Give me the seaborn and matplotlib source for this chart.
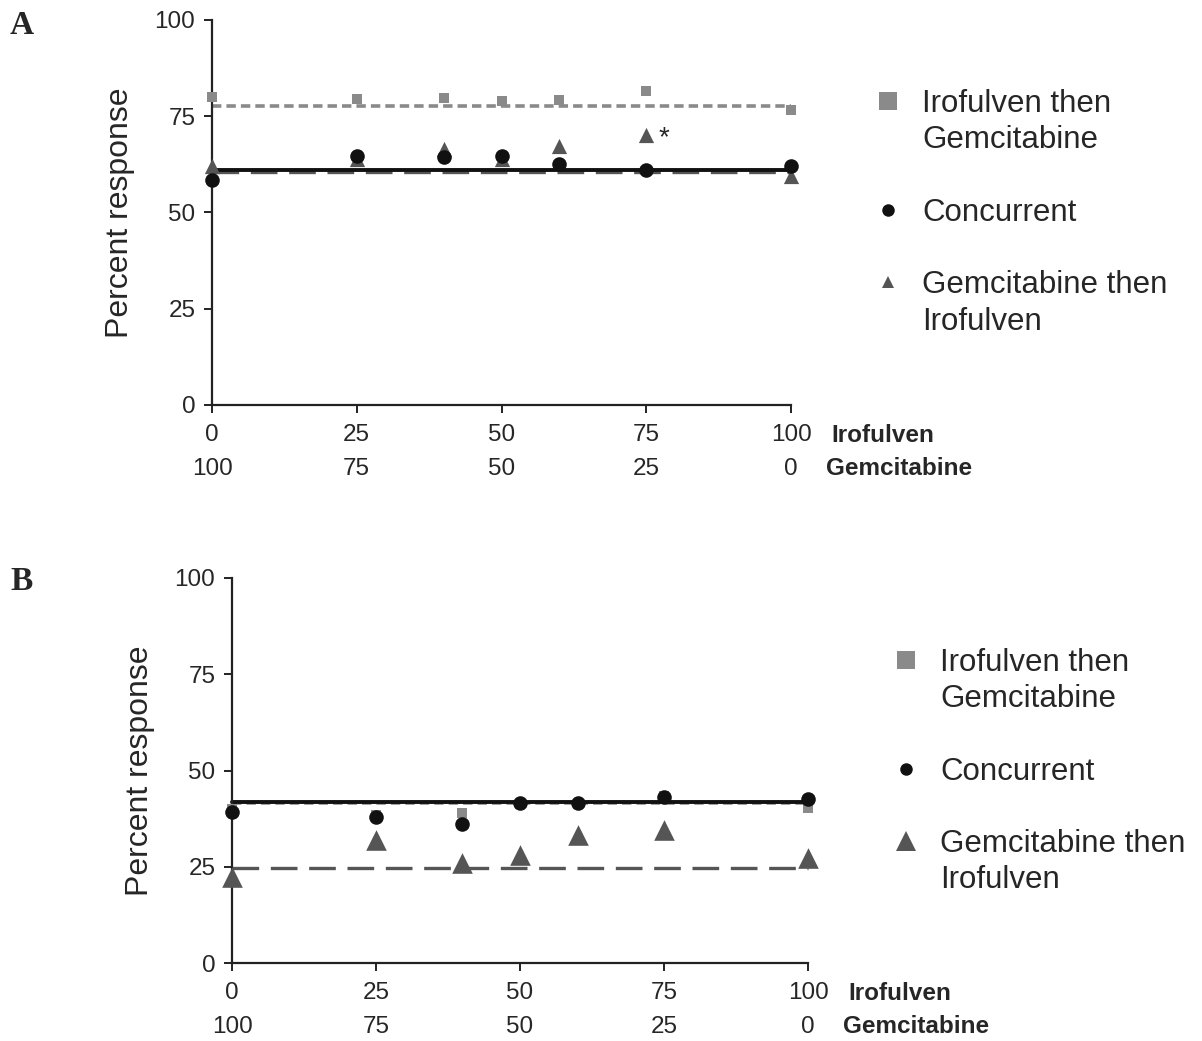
import matplotlib
matplotlib.use("Agg")
import matplotlib.pyplot as plt
from matplotlib.lines import Line2D
import seaborn as sns

sns.set_theme(style="ticks")
plt.rcParams['font.family'] = ['Liberation Sans', 'DejaVu Sans']

# ---------------- data ----------------
irofulven_pct = [0, 25, 40, 50, 60, 75, 100]
x_ticks = [0, 25, 50, 75, 100]
irofulven_labels = ["0", "25", "50", "75", "100"]
gemcitabine_labels = ["100", "75", "50", "25", "0"]
series_names = ["Irofulven then\nGemcitabine", "Concurrent", "Gemcitabine then\nIrofulven"]

# Panel A
a_iro_then_gem = [80.0, 79.4, 79.8, 79.0, 79.2, 81.6, 76.7]
a_concurrent = [58.4, 64.7, 64.5, 64.6, 62.6, 61.0, 62.2]
a_gem_then_iro = [62.0, 64.0, 66.5, 64.0, 67.3, 70.1, 59.6]
a_fit_levels = [77.7, 61.1, 60.6]

# Panel B
b_iro_then_gem = [40.0, 38.5, 38.9, 41.3, 41.3, 43.3, 40.3]
b_concurrent = [39.3, 38.0, 36.0, 41.5, 41.5, 43.0, 42.5]
b_gem_then_iro = [22.4, 31.9, 26.0, 28.0, 33.2, 34.5, 27.4]
b_fit_levels = [41.5, 41.9, 24.8]

# ---------------- styling ----------------
W, H = 1202, 1041
fig = plt.figure(figsize=(W / 100, H / 100), dpi=100)

sq_col = "#8a8a8a"
ci_col = "#111111"
tr_col = "#555555"


def make_panel(ax_rect, iro_gem, conc, gem_iro, fits, tri_size, sq_size, legend_pos, leg_tri_ms, letter, letter_y):
    ax = fig.add_axes(ax_rect)
    # fitted lines
    sns.lineplot(x=[0, 100], y=[fits[0], fits[0]], ax=ax, color=sq_col, lw=2.6,
                 legend=False).lines[-1].set_dashes((2.6, 1.4))
    sns.lineplot(x=[0, 100], y=[fits[2], fits[2]], ax=ax, color=tr_col, lw=2.4,
                 legend=False).lines[-1].set_dashes((8, 3.5))
    sns.lineplot(x=[0, 100], y=[fits[1], fits[1]], ax=ax, color=ci_col, lw=2.8, legend=False)
    # points
    sns.scatterplot(x=irofulven_pct, y=iro_gem, ax=ax, marker="s", color=sq_col,
                    s=sq_size, linewidth=0, zorder=3, legend=False)
    sns.scatterplot(x=irofulven_pct, y=gem_iro, ax=ax, marker="^", color=tr_col,
                    s=tri_size, linewidth=0, zorder=4, legend=False)
    sns.scatterplot(x=irofulven_pct, y=conc, ax=ax, marker="o", color=ci_col,
                    s=110, linewidth=0, zorder=5, legend=False)
    for c in ax.collections:
        c.set_clip_on(False)
    for l in ax.lines:
        l.set_clip_on(False)

    ax.set_xlim(0, 100)
    ax.set_ylim(0, 100)
    ax.set_yticks([0, 25, 50, 75, 100])
    ax.set_xticks(x_ticks)
    ax.set_xticklabels(irofulven_labels)
    ax.tick_params(axis="both", labelsize=17.5, length=6, width=1.4, pad=6, color="#222222")
    ax.tick_params(axis="x", pad=8)
    ax.set_xlabel("")
    ax.set_ylabel("Percent response", fontsize=23, labelpad=14)
    sns.despine(ax=ax)
    for sp in ("left", "bottom"):
        ax.spines[sp].set_linewidth(1.6)
        ax.spines[sp].set_color("#222222")

    # second row of x labels (gemcitabine)
    for xv, lab in zip(x_ticks, gemcitabine_labels):
        ax.annotate(lab, xy=(xv, 0), xycoords=ax.get_xaxis_transform(),
                    xytext=(0, -46), textcoords="offset points",
                    ha="center", va="center", fontsize=17.5)
    ax.annotate("Irofulven", xy=(100, 0), xycoords=ax.get_xaxis_transform(),
                xytext=(29, -22), textcoords="offset points",
                ha="left", va="center", fontsize=17.5, fontweight="bold")
    ax.annotate("Gemcitabine", xy=(100, 0), xycoords=ax.get_xaxis_transform(),
                xytext=(25, -46), textcoords="offset points",
                ha="left", va="center", fontsize=17.5, fontweight="bold")

    # legend
    blank = Line2D([], [], ls="none", marker=None)
    handles = [
        Line2D([], [], ls="none", marker="s", color=sq_col, markersize=13, markeredgewidth=0),
        blank, blank,
        Line2D([], [], ls="none", marker="o", color=ci_col, markersize=9, markeredgewidth=0),
        blank,
        Line2D([], [], ls="none", marker="^", color=tr_col, markersize=leg_tri_ms, markeredgewidth=0),
        blank,
    ]
    n0 = series_names[0].split("\n")
    n2 = series_names[2].split("\n")
    labels = [n0[0], n0[1], "", series_names[1], "", n2[0], n2[1]]
    fig.legend(handles, labels, loc="upper left", bbox_to_anchor=legend_pos,
               frameon=False, fontsize=22.5, handlelength=1.0, handletextpad=0.6,
               labelspacing=0.2, borderpad=0, borderaxespad=0)

    fig.text(10 / W, 1 - letter_y / H, letter, fontsize=24, fontweight="bold",
             family="Liberation Serif", ha="left", va="center")
    return ax


axA = make_panel([212 / W, 1 - 405 / H, 579 / W, 385 / H],
                 a_iro_then_gem, a_concurrent, a_gem_then_iro, a_fit_levels,
                 tri_size=120, sq_size=45, legend_pos=(872 / W, 1 - 89 / H),
                 leg_tri_ms=9, letter="A", letter_y=25)
axA.annotate("*", xy=(75, a_gem_then_iro[5]), xytext=(9, -2), textcoords="offset points",
             ha="left", va="center", fontsize=20)

axB = make_panel([232 / W, 1 - 963 / H, 576 / W, 385 / H],
                 b_iro_then_gem, b_concurrent, b_gem_then_iro, b_fit_levels,
                 tri_size=220, sq_size=55, legend_pos=(890 / W, 1 - 648 / H),
                 leg_tri_ms=14, letter="B", letter_y=581)

fig.savefig("out.png", dpi=100)
